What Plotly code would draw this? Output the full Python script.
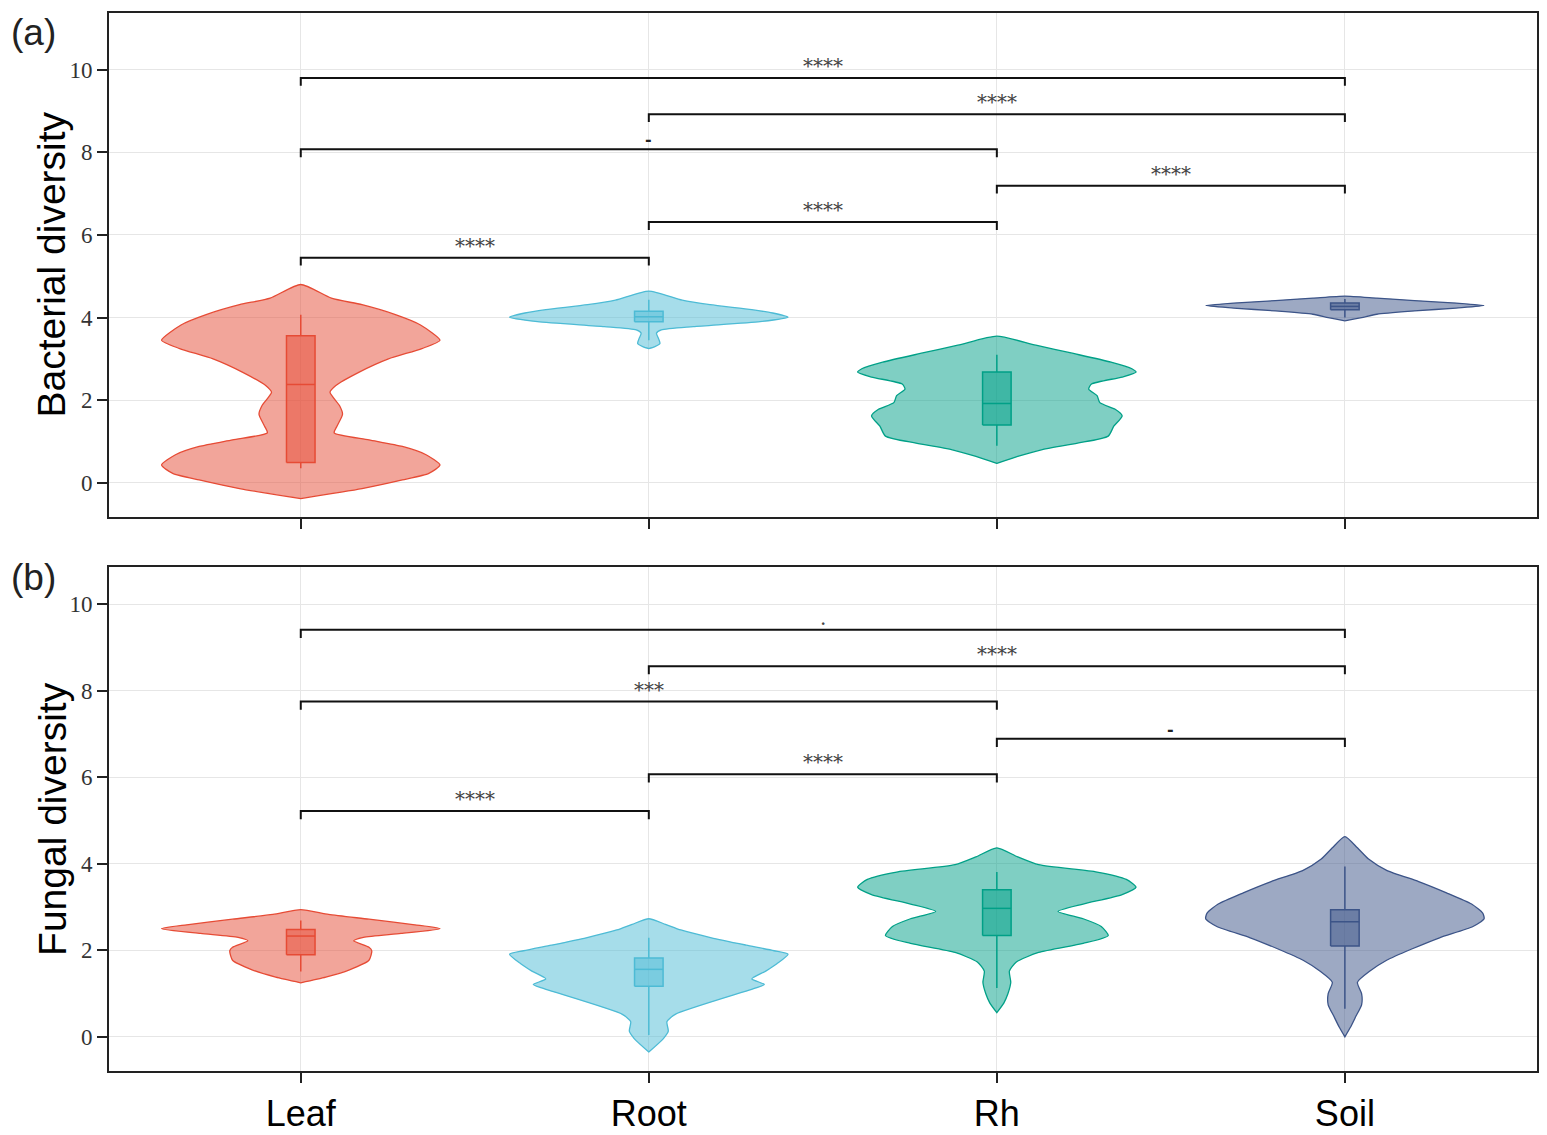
import plotly.graph_objects as go

categories = ["Leaf", "Root", "Rh", "Soil"]
positions = [1, 2, 3, 4]
colors = ["230,75,53", "77,187,213", "0,160,135", "60,84,136"]

# violin outlines: y level + relative half width (1 = widest)
bact_leaf_y = [4.80, 4.47, 4.31, 4.07, 3.82, 3.45, 3.25, 3.00, 2.68, 2.35, 2.19, 1.86, 1.66, 1.37, 1.21, 1.04, 0.88, 0.68, 0.43, 0.23, 0.07, -0.14, -0.38]
bact_leaf_w = [0, 0.22, 0.44, 0.68, 0.86, 1.0, 0.87, 0.63, 0.42, 0.25, 0.21, 0.28, 0.30, 0.26, 0.24, 0.49, 0.73, 0.90, 1.0, 0.92, 0.73, 0.44, 0]
bact_root_y = [4.64, 4.42, 4.31, 4.19, 4.11, 4.01, 3.90, 3.78, 3.70, 3.62, 3.49, 3.37, 3.29, 3.25]
bact_root_w = [0, 0.24, 0.44, 0.74, 0.89, 1.0, 0.80, 0.32, 0.09, 0.055, 0.07, 0.08, 0.04, 0]
bact_rh_y = [3.55, 3.33, 3.13, 2.92, 2.76, 2.68, 2.56, 2.39, 2.27, 2.11, 1.94, 1.78, 1.62, 1.37, 1.13, 0.96, 0.80, 0.64, 0.47]
bact_rh_w = [0, 0.28, 0.55, 0.82, 0.97, 1.0, 0.90, 0.68, 0.66, 0.72, 0.74, 0.85, 0.90, 0.84, 0.80, 0.58, 0.32, 0.15, 0]
bact_soil_y = [4.52, 4.47, 4.41, 4.35, 4.29, 4.23, 4.16, 4.08, 4.00, 3.92]
bact_soil_w = [0, 0.23, 0.5, 0.8, 1.0, 0.8, 0.5, 0.23, 0.12, 0]

fung_leaf_y = [2.94, 2.83, 2.72, 2.59, 2.50, 2.39, 2.30, 2.22, 2.07, 1.99, 1.77, 1.55, 1.38, 1.25]
fung_leaf_w = [0, 0.20, 0.49, 0.82, 1.0, 0.72, 0.45, 0.38, 0.49, 0.51, 0.49, 0.35, 0.18, 0]
fung_root_y = [2.73, 2.60, 2.47, 2.29, 2.12, 1.99, 1.91, 1.69, 1.52, 1.34, 1.21, 1.13, 0.52, 0.35, 0.13, -0.04, -0.35]
fung_root_w = [0, 0.12, 0.23, 0.45, 0.70, 0.90, 1.0, 0.92, 0.84, 0.74, 0.83, 0.77, 0.19, 0.13, 0.14, 0.105, 0]
fung_rh_y = [4.37, 4.16, 3.98, 3.81, 3.64, 3.46, 3.29, 3.07, 2.90, 2.73, 2.55, 2.34, 2.16, 1.95, 1.73, 1.52, 1.26, 1.00, 0.78, 0.56]
fung_rh_w = [0, 0.15, 0.30, 0.72, 0.93, 1.0, 0.90, 0.62, 0.44, 0.62, 0.75, 0.80, 0.62, 0.30, 0.14, 0.09, 0.10, 0.08, 0.05, 0]
fung_soil_y = [4.63, 4.37, 4.11, 3.85, 3.59, 3.33, 3.07, 2.86, 2.73, 2.55, 2.29, 2.03, 1.77, 1.52, 1.26, 1.00, 0.74, 0.48, 0.22, 0.0]
fung_soil_w = [0, 0.09, 0.17, 0.30, 0.53, 0.73, 0.91, 0.99, 1.0, 0.92, 0.68, 0.48, 0.30, 0.18, 0.09, 0.12, 0.12, 0.08, 0.04, 0]

# box stats (Leaf, Root, Rh, Soil)
bact_q1 = [0.49, 3.90, 1.40, 4.19]
bact_med = [2.38, 4.02, 1.92, 4.27]
bact_q3 = [3.56, 4.15, 2.68, 4.35]
bact_lo = [0.35, 3.45, 0.90, 4.00]
bact_hi = [4.07, 4.43, 3.10, 4.45]

fung_q1 = [1.90, 1.17, 2.34, 2.10]
fung_med = [2.33, 1.56, 2.97, 2.66]
fung_q3 = [2.48, 1.82, 3.40, 2.94]
fung_lo = [1.51, 0.04, 1.13, 0.65]
fung_hi = [2.69, 2.29, 3.81, 3.94]

# significance brackets
bact_pairs = [(1, 4), (2, 4), (1, 3), (3, 4), (2, 3), (1, 2)]
bact_bracket_y = [9.80, 8.92, 8.07, 7.19, 6.31, 5.45]
bact_labels = ["****", "****", "-", "****", "****", "****"]
fung_pairs = [(1, 4), (2, 4), (1, 3), (3, 4), (2, 3), (1, 2)]
fung_bracket_y = [9.41, 8.57, 7.75, 6.89, 6.07, 5.22]
fung_labels = [".", "****", "***", "-", "****", "****"]

HALF = 0.4
BOXW = 0.041
TICK = 0.19

fig = go.Figure()


def add_violin(pos, vy, vw, col, xa, ya):
    xs = [pos + HALF * w for w in vw] + [pos - HALF * w for w in vw[::-1]]
    ys = list(vy) + list(vy[::-1])
    fig.add_trace(go.Scatter(x=xs, y=ys, mode="lines", fill="toself",
                             fillcolor=f"rgba({col},0.5)",
                             line=dict(color=f"rgb({col})", width=1.3, shape="spline", smoothing=0.6),
                             xaxis=xa, yaxis=ya, showlegend=False, hoverinfo="skip"))


def add_box(pos, q1, med, q3, lo, hi, col, xa, ya):
    fig.add_trace(go.Scatter(x=[pos - BOXW, pos + BOXW, pos + BOXW, pos - BOXW, pos - BOXW],
                             y=[q1, q1, q3, q3, q1], mode="lines", fill="toself",
                             fillcolor=f"rgba({col},0.5)", line=dict(color=f"rgb({col})", width=1.5),
                             xaxis=xa, yaxis=ya, showlegend=False, hoverinfo="skip"))
    fig.add_trace(go.Scatter(x=[pos - BOXW, pos + BOXW, None, pos, pos, None, pos, pos],
                             y=[med, med, None, q3, hi, None, lo, q1], mode="lines",
                             line=dict(color=f"rgb({col})", width=1.5),
                             xaxis=xa, yaxis=ya, showlegend=False, hoverinfo="skip"))


panels = [
    ("x", "y", [(bact_leaf_y, bact_leaf_w), (bact_root_y, bact_root_w), (bact_rh_y, bact_rh_w), (bact_soil_y, bact_soil_w)],
     (bact_q1, bact_med, bact_q3, bact_lo, bact_hi), bact_pairs, bact_bracket_y, bact_labels),
    ("x2", "y2", [(fung_leaf_y, fung_leaf_w), (fung_root_y, fung_root_w), (fung_rh_y, fung_rh_w), (fung_soil_y, fung_soil_w)],
     (fung_q1, fung_med, fung_q3, fung_lo, fung_hi), fung_pairs, fung_bracket_y, fung_labels),
]

annotations = []
for xa, ya, violins, stats, pairs, bys, labs in panels:
    for i, (vy, vw) in enumerate(violins):
        add_violin(positions[i], vy, vw, colors[i], xa, ya)
    for i in range(4):
        add_box(positions[i], stats[0][i], stats[1][i], stats[2][i], stats[3][i], stats[4][i], colors[i], xa, ya)
    for (a, b), h, lab in zip(pairs, bys, labs):
        fig.add_trace(go.Scatter(x=[a, a, b, b], y=[h - TICK, h, h, h - TICK], mode="lines",
                                 line=dict(color="#111111", width=2),
                                 xaxis=xa, yaxis=ya, showlegend=False, hoverinfo="skip"))
        if lab == "-":
            txt, fnt = "<b>-</b>", dict(family="DejaVu Sans", size=16, color="#222222")
        else:
            txt, fnt = lab, dict(family="DejaVu Serif", size=20, color="#444444")
        annotations.append(dict(x=(a + b) / 2, y=h, xref=xa, yref=ya, text=txt, showarrow=False,
                                yanchor="bottom", yshift=-2, font=fnt))

# axis titles and panel tags
annotations += [
    dict(x=-0.0401, y=0.762, xref="paper", yref="paper", text="Bacterial diversity", textangle=-90,
         xanchor="center", yanchor="middle", showarrow=False,
         font=dict(family="Liberation Sans", size=39, color="black")),
    dict(x=-0.0401, y=0.238, xref="paper", yref="paper", text="Fungal diversity", textangle=-90,
         xanchor="center", yanchor="middle", showarrow=False,
         font=dict(family="Liberation Sans", size=39, color="black")),
    dict(x=-0.0527, y=0.982, xref="paper", yref="paper", text="(a)", xanchor="center", yanchor="middle",
         showarrow=False, font=dict(family="Liberation Sans", size=37, color="#222222")),
    dict(x=-0.0527, y=0.466, xref="paper", yref="paper", text="(b)", xanchor="center", yanchor="middle",
         showarrow=False, font=dict(family="Liberation Sans", size=37, color="#222222")),
]

xcommon = dict(range=[0.449, 4.552], tickvals=positions, ticktext=categories, showgrid=True,
               gridcolor="#e6e6e6", gridwidth=1, zeroline=False, showline=True, linecolor="#222222",
               linewidth=2, mirror=True, ticks="outside", ticklen=10, tickwidth=1.5, tickcolor="#222222",
               automargin=False)
ycommon = dict(tickvals=[0, 2, 4, 6, 8, 10], showgrid=True, gridcolor="#e6e6e6", gridwidth=1,
               zeroline=False, showline=True, linecolor="#222222", linewidth=2, mirror=True,
               ticks="outside", ticklen=10, tickwidth=1.5, tickcolor="#222222", automargin=False,
               tickfont=dict(family="Liberation Serif", size=23, color="#333333"))

# page body keeps an 8px margin, so the figure is sized to fill the rest of the window
fig.update_layout(
    width=1539, height=1127,
    margin=dict(l=101, r=10, t=5, b=64),
    plot_bgcolor="white", paper_bgcolor="white",
    xaxis=dict(xcommon, anchor="y", domain=[0, 1], showticklabels=False),
    yaxis=dict(ycommon, anchor="x", domain=[0.5239, 1.0], range=[-0.82, 11.37]),
    xaxis2=dict(xcommon, anchor="y2", domain=[0, 1], ticklabelstandoff=0,
                tickfont=dict(family="Liberation Sans", size=36, color="black")),
    yaxis2=dict(ycommon, anchor="x2", domain=[0, 0.4767], range=[-0.79, 10.87]),
    annotations=annotations,
    showlegend=False,
)

fig.write_html("out.html")
